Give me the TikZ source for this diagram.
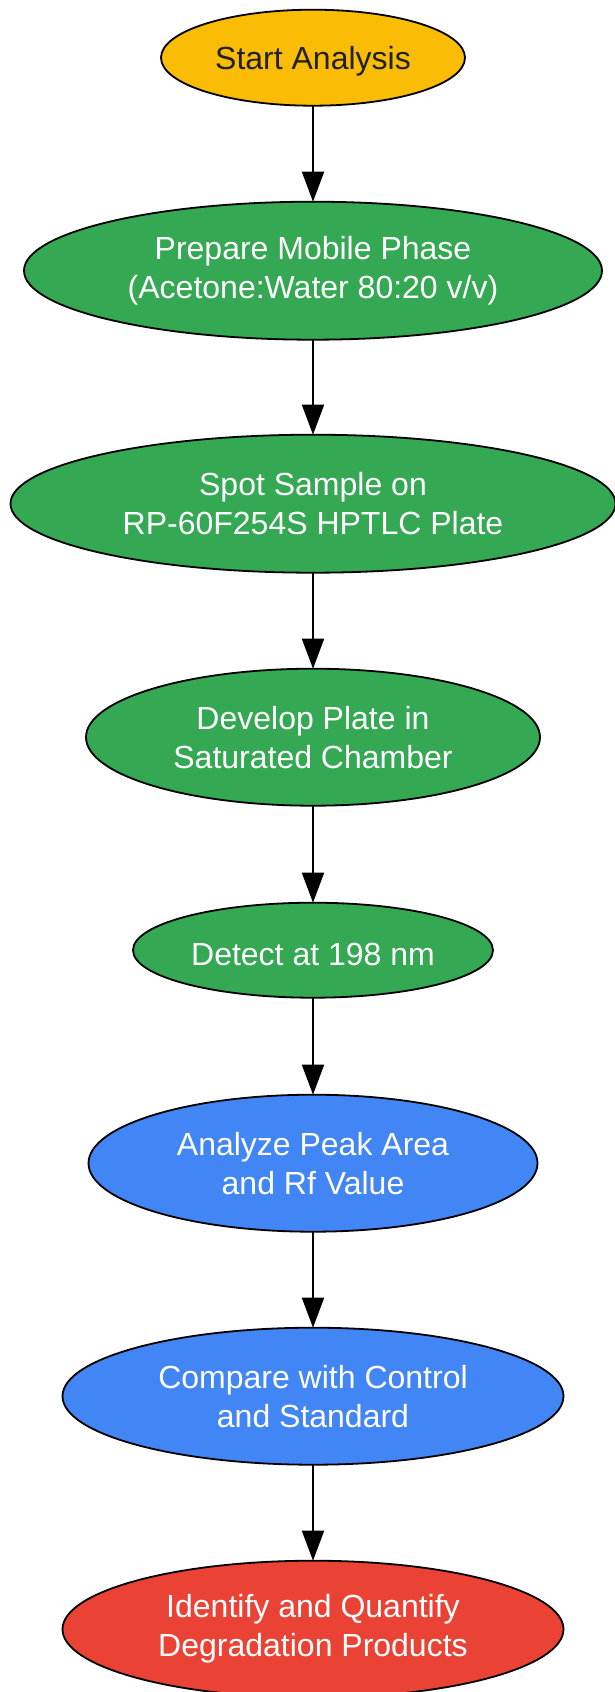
\documentclass[tikz,border=0pt]{standalone}
\usepackage{fontspec}
\setmainfont{Liberation Sans}
\usepackage{xcolor}
\usetikzlibrary{positioning, arrows.meta, shapes.geometric}

\definecolor{startyellow}{HTML}{FBBC05}
\definecolor{stepgreen}{HTML}{34A853}
\definecolor{stepblue}{HTML}{4285F4}
\definecolor{endred}{HTML}{EA4335}
\definecolor{darktext}{HTML}{202124}

\begin{document}
\begin{tikzpicture}[stage/.style={ellipse, draw=black, line width=1.8pt, inner sep=0pt, outer sep=0pt, align=center, text=white, font=\fontsize{32}{39}\selectfont, execute at begin node={\rule{0pt}{30pt}}}, flow/.style={-{Triangle[length=30pt,width=22pt]}, line width=1.8pt}]
    \useasboundingbox (0,0) rectangle (614pt,-1692pt);

    \node[stage, fill=startyellow, text=darktext, minimum width=304pt, minimum height=96pt] (start) at (313pt,-57.7pt) {Start Analysis};
    \node[stage, fill=stepgreen, minimum width=578pt, minimum height=138pt, below=96pt of start] (mobile) {Prepare Mobile Phase\\(Acetone:Water 80:20 v/v)};
    \node[stage, fill=stepgreen, minimum width=605pt, minimum height=138pt, below=95pt of mobile] (spot) {Spot Sample on\\RP-60F254S HPTLC Plate};
    \node[stage, fill=stepgreen, minimum width=454pt, minimum height=137pt, below=96pt of spot] (develop) {Develop Plate in\\Saturated Chamber};
    \node[stage, fill=stepgreen, minimum width=360pt, minimum height=95pt, below=97pt of develop] (detect) {Detect at 198 nm};
    \node[stage, fill=stepblue, minimum width=449pt, minimum height=137pt, below=97pt of detect] (peak) {Analyze Peak Area\\and Rf Value};
    \node[stage, fill=stepblue, minimum width=501pt, minimum height=137pt, below=96pt of peak] (compare) {Compare with Control\\and Standard};
    \node[stage, fill=endred, minimum width=501pt, minimum height=137pt, below=96pt of compare] (identify) {Identify and Quantify\\Degradation Products};

    \path[draw, flow]
        (start) edge (mobile)
        (mobile) edge (spot)
        (spot) edge (develop)
        (develop) edge (detect)
        (detect) edge (peak)
        (peak) edge (compare)
        (compare) edge (identify)
        ;
\end{tikzpicture}
\end{document}
